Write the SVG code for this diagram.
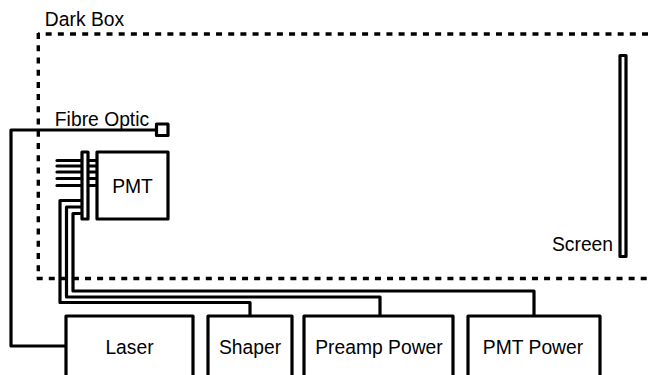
<svg xmlns="http://www.w3.org/2000/svg" width="653" height="375" viewBox="0 0 653 375">
<style>
.s{fill:none;stroke:#000;stroke-width:3.200;stroke-linejoin:round;stroke-linecap:round}
.w{fill:#fff;stroke:#000;stroke-width:3.200;stroke-linejoin:round}
.t{font-family:"Liberation Sans",Arial,sans-serif;font-size:19.300px;fill:#000;text-anchor:middle}
.d{fill:none;stroke:#000;stroke-width:3.400}
</style>
<g id="dark-box">
<path class="d" d="M38 34H648.500" stroke-dasharray="6 6.170" stroke-dashoffset="4.500"/>
<path class="d" d="M38.300 33V278" stroke-dasharray="6 6.220"/>
<path class="d" d="M36.700 278.500H648" stroke-dasharray="6 6.080"/>
<text class="t" x="84.500" y="25.600">Dark Box</text></g>
<g id="connectors">
<path class="s" d="M157 130H11V346H66"/>
<path class="s" d="M57 160.500H97M57 166H97M57 172H97M57 178.500H97M57 185.500H97"/>
<path class="s" d="M82 200.500H60V302.500H250V316"/>
<path class="s" d="M82 207H66.500V297H380V316"/>
<path class="s" d="M82 213.500H73V291H534V316"/>
</g>
<g id="fibre-optic"><rect class="w" x="156.500" y="124" width="11.500" height="11.500"/><text class="t" x="102" y="125.600">Fibre Optic</text></g>
<g id="pmt"><rect class="w" x="97" y="152" width="71" height="67"/><text class="t" x="132.500" y="192.600">PMT</text></g>
<g id="connector-strip"><rect class="w" x="82" y="152" width="6" height="67"/></g>
<g id="screen"><rect class="w" x="620" y="55.500" width="6" height="201"/><text class="t" x="582.500" y="250.600">Screen</text></g>
<g id="laser"><rect class="w" x="66" y="316" width="127" height="70"/><text class="t" x="129.500" y="353.600">Laser</text></g>
<g id="shaper"><rect class="w" x="208" y="316" width="84" height="70"/><text class="t" x="250" y="353.600">Shaper</text></g>
<g id="preamp-power"><rect class="w" x="304" y="316" width="149" height="70"/><text class="t" x="379" y="353.600">Preamp Power</text></g>
<g id="pmt-power"><rect class="w" x="468" y="316" width="132" height="70"/><text class="t" x="533" y="353.600">PMT Power</text></g>
</svg>
